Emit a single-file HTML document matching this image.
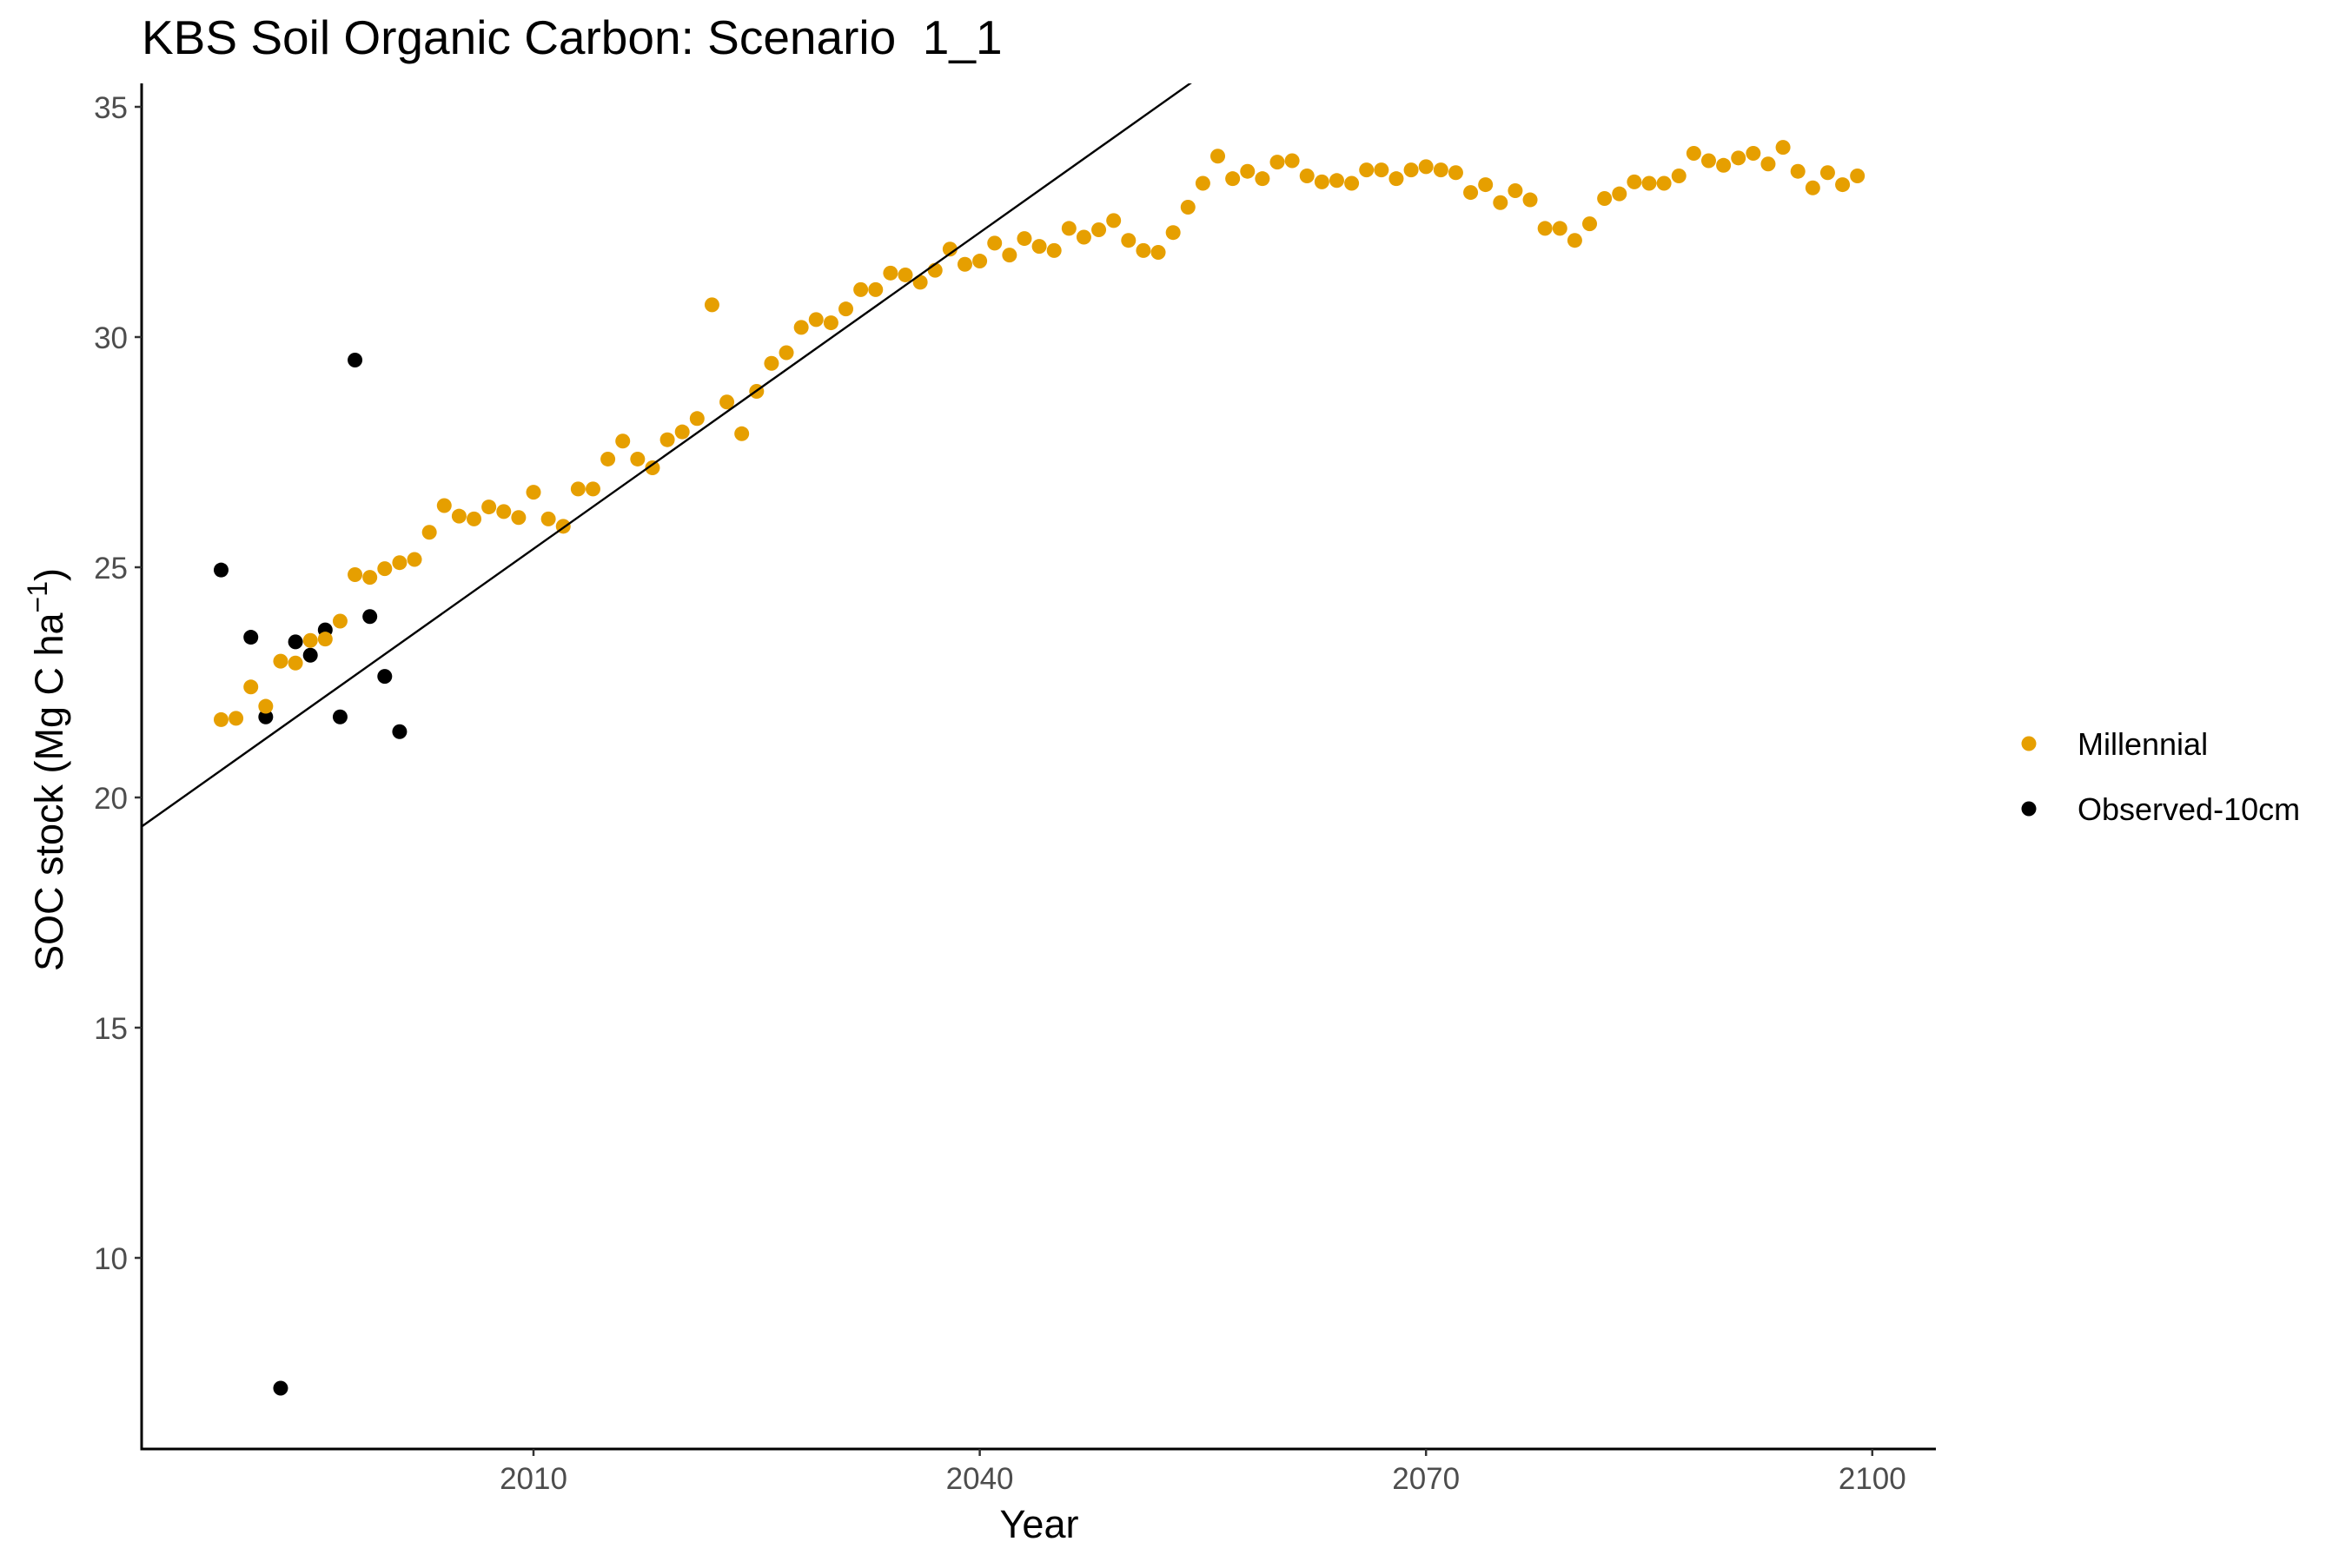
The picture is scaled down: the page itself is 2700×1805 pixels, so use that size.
<!DOCTYPE html>
<html><head><meta charset="utf-8"><style>
html,body{margin:0;padding:0;background:#fff}
svg text{font-family:"Liberation Sans",sans-serif}
</style></head><body>
<svg id="chart" width="2700" height="1800" viewBox="0 0 2700 1800" xmlns="http://www.w3.org/2000/svg">
<rect width="2700" height="1800" fill="#fff"/>
<text x="163" y="62" font-size="55" fill="#000" xml:space="preserve">KBS Soil Organic Carbon: Scenario  1_1</text>
<g id="plot"></g>
<g id="axes"></g>
<text x="1196" y="1770" font-size="45" text-anchor="middle" fill="#000">Year</text>
<text transform="translate(72,886) rotate(-90)" font-size="45" text-anchor="middle" fill="#000">SOC stock (Mg C ha<tspan font-size="32" dy="-18">−1</tspan><tspan dy="18">)</tspan></text>
<g>
<circle cx="2335" cy="856" r="8.5" fill="#E69F00"/>
<text x="2391" y="869" font-size="36" fill="#000">Millennial</text>
<circle cx="2335" cy="931" r="8.5" fill="#000"/>
<text x="2391" y="944" font-size="36" fill="#000">Observed-10cm</text>
</g>
</svg>
<script>
const milYears = Array.from({length:111},(_, i)=>1989+i);
const milValues = [21.69,21.72,22.40,21.98,22.96,22.92,23.41,23.44,23.83,24.84,24.78,24.97,25.10,25.17,25.76,26.34,26.11,26.05,26.31,26.21,26.08,26.63,26.05,25.89,26.70,26.70,27.35,27.74,27.35,27.16,27.77,27.94,28.23,30.70,28.59,27.90,28.82,29.43,29.66,30.21,30.38,30.31,30.61,31.03,31.03,31.39,31.35,31.19,31.45,31.91,31.58,31.65,32.04,31.78,32.14,31.97,31.88,32.36,32.17,32.33,32.53,32.10,31.88,31.84,32.27,32.82,33.34,33.93,33.44,33.60,33.44,33.80,33.83,33.50,33.37,33.40,33.34,33.63,33.63,33.44,33.63,33.70,33.63,33.57,33.14,33.31,32.92,33.18,32.98,32.36,32.36,32.10,32.46,33.01,33.11,33.37,33.34,33.34,33.50,33.99,33.83,33.73,33.89,33.99,33.76,34.12,33.60,33.24,33.57,33.31,33.50];
const obsYears = [1989,1991,1992,1993,1994,1995,1996,1997,1998,1999,2000,2001];
const obsValues = [24.94,23.48,21.75,7.17,23.38,23.09,23.64,21.75,29.50,23.93,22.63,21.43];
const xTicks = [2010,2040,2070,2100];
const yTicks = [10,15,20,25,30,35];
const fitIntercept2010 = 25.4;
const fitSlope = 0.229;

const L=163, R=2228, T=96, B=1668;
const x = yr => 614 + (yr-2010)*17.12;
const y = v => 1448 - (v-10)*53;
const NS="http://www.w3.org/2000/svg";
const plot=document.getElementById('plot'), axes=document.getElementById('axes');
function mk(tag, attrs, parent){const e=document.createElementNS(NS,tag);for(const k in attrs)e.setAttribute(k,attrs[k]);parent.appendChild(e);return e;}

const defs=mk('defs',{},plot);
const cp=mk('clipPath',{id:'clip'},defs);
mk('rect',{x:L,y:T,width:R-L,height:B-T},cp);

obsYears.forEach((yr,i)=>{
  const c=mk('circle',{cx:x(yr),cy:y(obsValues[i]),r:8.5,fill:'#000'},plot);
  
  
});
milYears.forEach((yr,i)=>{
  const c=mk('circle',{cx:x(yr),cy:y(milValues[i]),r:8.5,fill:'#E69F00'},plot);
  
  
});
const x0=1980, x1=2070;
const ln=mk('line',{x1:x(x0),y1:y(fitIntercept2010+fitSlope*(x0-2010)),x2:x(x1),y2:y(fitIntercept2010+fitSlope*(x1-2010)),stroke:'#000','stroke-width':2.4,'clip-path':'url(#clip)'},plot);



const ya=mk('line',{x1:L,y1:T,x2:L,y2:B+1.5,stroke:'#000','stroke-width':3},axes);


const xa=mk('line',{x1:L-1.5,y1:B,x2:R,y2:B,stroke:'#000','stroke-width':3},axes);


yTicks.forEach(v=>{
  const t=mk('line',{x1:L-8,y1:y(v),x2:L,y2:y(v),stroke:'#333','stroke-width':2.5},axes);
  
  
  const tx=mk('text',{x:L-16,y:y(v)+13,'font-size':35,'text-anchor':'end',fill:'#4d4d4d'},axes);
  tx.textContent=v;
  
  
});
xTicks.forEach(v=>{
  const t=mk('line',{x1:x(v),y1:B,x2:x(v),y2:B+8,stroke:'#333','stroke-width':2.5},axes);
  
  
  const tx=mk('text',{x:x(v),y:B+46,'font-size':35,'text-anchor':'middle',fill:'#4d4d4d'},axes);
  tx.textContent=v;
  
  
});
</script>
</body></html>
